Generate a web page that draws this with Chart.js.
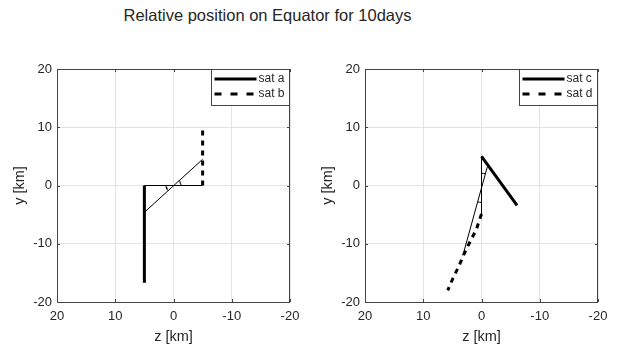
<!DOCTYPE html>
<html>
<head>
<meta charset="utf-8">
<script src="https://cdn.jsdelivr.net/npm/chart.js@4.4.1/dist/chart.umd.min.js"></script>
<style>
  body { margin: 0; background: #fff; width: 617px; height: 351px; position: relative; overflow: hidden; }
  #title { position: absolute; left: 0; width: 535px; top: 6px; text-align: center;
           font: 16.5px "Liberation Sans", Arial, sans-serif; color: #262626; }
  .box { position: absolute; top: 0; height: 351px; }
</style>
</head>
<body>
<div id="title">Relative position on Equator for 10days</div>
<div class="box" style="left:0;width:308px"><canvas id="c1"></canvas></div>
<div class="box" style="left:308px;width:309px"><canvas id="c2"></canvas></div>
<script>
// left plot
const satA_z = [5, 5];
const satA_y = [0, -16.7];
const satB_z = [-5, -5];
const satB_y = [0, 9.5];
const lineL_z = [5, -5];
const lineL_y = [0, 0];
const diagL_z = [5, -5];
const diagL_y = [-4.6, 4.5];
const arcL1_z = [1.3, 1.26, 1.15, 0.97];
const arcL1_y = [0, -0.31, -0.61, -0.87];
const arcL2_z = [-1.3, -1.26, -1.15, -0.97];
const arcL2_y = [0, 0.31, 0.61, 0.87];

// right plot
const satC_z = [0, -6.1];
const satC_y = [5, -3.4];
const satD_z = [0, 0.9, 2, 3.1, 3.9, 4.8, 5.8];
const satD_y = [-4.9, -7.6, -9.7, -12, -13.9, -15.7, -18];
const vertR_z = [0, 0];
const vertR_y = [5, -5];
const diagR_z = [-1, 3.2];
const diagR_y = [3.2, -12];
const arcR1_z = [0, -0.35, -0.65];
const arcR1_y = [2.1, 2.08, 2.0];
const arcR2_z = [0, 0.35, 0.65];
const arcR2_y = [-2.9, -2.88, -2.8];

const ticks = [20, 10, 0, -10, -20];

const FONT = '"Liberation Sans", Arial, sans-serif';
const TXT = '#262626';

function pts(zs, ys) { return zs.map((z, i) => ({ x: z, y: ys[i] })); }

function ds(zs, ys, opt) {
  return Object.assign({
    data: pts(zs, ys), showLine: true, pointRadius: 0, borderColor: '#000',
    borderWidth: 1, fill: false, tension: 0
  }, opt);
}

const frame = {
  id: 'frame',
  afterDatasetsDraw(chart) {
    const a = chart.chartArea, c = chart.ctx;
    c.save();
    c.strokeStyle = '#444';
    c.lineWidth = 1;
    c.strokeRect(Math.round(a.left) + 0.5, Math.round(a.top) + 0.5,
                 Math.round(a.right - a.left) - 1, Math.round(a.bottom - a.top));
    // inward ticks
    const xs = chart.scales.x, ys = chart.scales.y;
    ticks.forEach(t => {
      const px = Math.round(xs.getPixelForValue(t)) + 0.5;
      c.beginPath(); c.moveTo(px, a.bottom); c.lineTo(px, a.bottom - 3);
      c.moveTo(px, a.top); c.lineTo(px, a.top + 3); c.stroke();
      const py = Math.round(ys.getPixelForValue(t)) + 0.5;
      c.beginPath(); c.moveTo(a.left, py); c.lineTo(a.left + 3, py);
      c.moveTo(a.right, py); c.lineTo(a.right - 3, py); c.stroke();
    });
    // legend box
    const items = chart.data.datasets.filter(d => d.label);
    const bx = Math.round(a.right) - 78.5, by = Math.round(a.top) + 0.5, bw = 78, bh = 36;
    c.fillStyle = '#fff';
    c.fillRect(bx, by, bw, bh);
    c.strokeRect(bx, by, bw, bh);
    c.font = '12px ' + FONT;
    c.textBaseline = 'middle';
    items.forEach((d, i) => {
      const y = by + 9.5 + i * 15;
      c.save();
      c.strokeStyle = '#000';
      c.lineWidth = 3;
      c.setLineDash(d.borderDash ? [7, 9] : []);
      c.beginPath(); c.moveTo(bx + 3, y); c.lineTo(bx + 45, y); c.stroke();
      c.restore();
      c.fillStyle = TXT;
      c.fillText(d.label, bx + 47, y);
    });
    c.restore();
  }
};

function make(id, datasets, padRight) {
  new Chart(document.getElementById(id), {
    type: 'scatter',
    data: { datasets },
    plugins: [frame],
    options: {
      responsive: true, maintainAspectRatio: false, animation: false,
      layout: { padding: { left: 11, right: padRight, top: 69, bottom: 5 } },
      plugins: { legend: { display: false }, tooltip: { enabled: false } },
      scales: {
        x: {
          type: 'linear', reverse: true, min: -20, max: 20,
          afterFit: s => { s.height = 44; },
          grid: { color: '#e3e3e3', drawTicks: false },
          border: { display: false },
          ticks: { stepSize: 10, padding: 7, color: TXT, font: { family: FONT, size: 13 } },
          title: { display: true, text: 'z [km]', color: TXT, padding: 0, font: { family: FONT, size: 14.5 } }
        },
        y: {
          type: 'linear', min: -20, max: 20,
          afterFit: s => { s.width = 46; },
          grid: { color: '#e3e3e3', drawTicks: false },
          border: { display: false },
          ticks: { stepSize: 10, padding: 5, color: TXT, font: { family: FONT, size: 13 } },
          title: { display: true, text: 'y [km]', color: TXT, padding: 0, font: { family: FONT, size: 14.5 } }
        }
      }
    }
  });
}

make('c1', [
  ds(satA_z, satA_y, { label: 'sat a', borderWidth: 3 }),
  ds(satB_z, satB_y, { label: 'sat b', borderWidth: 3, borderDash: [5, 5] }),
  ds(lineL_z, lineL_y, {}),
  ds(diagL_z, diagL_y, {}),
  ds(arcL1_z, arcL1_y, {}),
  ds(arcL2_z, arcL2_y, {})
], 18);

make('c2', [
  ds(satC_z, satC_y, { label: 'sat c', borderWidth: 3 }),
  ds(satD_z, satD_y, { label: 'sat d', borderWidth: 3, borderDash: [5, 5] }),
  ds(vertR_z, vertR_y, {}),
  ds(diagR_z, diagR_y, {}),
  ds(arcR1_z, arcR1_y, {}),
  ds(arcR2_z, arcR2_y, {})
], 19);
</script>
</body>
</html>
